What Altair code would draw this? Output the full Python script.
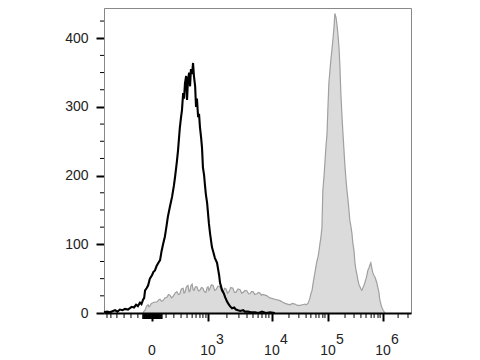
import altair as alt
import pandas as pd

# Unstained control (black line): channel (display units 0-1024) and event count
ctrl_channel = [0,10,20,30,37,45,53,62,70,80,92,100,107,113,120,125,130,134,137,142,147,153,160,165,170,175,180,187,192,197,203,208,213,220,227,233,237,243,247,253,257,260,264,267,270,274,277,280,284,287,290,294,297,300,304,307,310,314,317,320,324,327,330,334,337,340,344,350,354,360,365,370,377,384,387,394,400,404,410,414,420,427,434,440,447,454,464,470,480,490,504,515,527,540,554,570]
ctrl_count = [1,2,1,3,4,2,5,4,6,5,9,8,12,10,15,13,19,22,33,36,40,50,55,60,62,68,72,77,90,100,111,125,140,155,169,185,198,220,237,270,285,295,320,312,334,345,310,339,350,330,355,348,364,345,330,300,312,285,290,271,255,240,212,200,185,172,160,130,115,96,88,80,73,55,44,33,28,23,17,14,10,7,8,5,4,3,4,2,2,1,1,0,2,0,1,0]

# Stained sample (grey filled)
stain_channel = [130,134,137,142,147,150,153,158,163,170,177,182,187,192,197,203,210,215,220,225,230,237,243,248,253,258,264,267,270,275,280,284,287,290,294,297,300,305,310,315,320,325,330,335,340,344,347,350,354,358,364,369,374,380,387,392,397,402,407,412,417,423,430,435,440,447,454,459,464,470,477,482,487,492,497,503,510,515,520,525,530,537,544,550,554,562,570,578,587,595,604,612,620,628,637,645,654,662,670,675,680,684,687,690,694,697,700,704,707,710,714,717,720,724,727,730,734,737,740,744,747,750,754,757,760,764,767,770,774,777,780,784,787,790,794,797,800,804,807,810,814,817,820,824,827,830,834,837,840,844,847,850,854,857,860,864,867,870,874,877,880,884,887,890,894,897,900,904,907,910,914,917,920,924,927,931,934,937]
stain_count = [0,3,4,10,12,9,10,14,15,16,16,19,20,17,18,22,23,27,26,22,24,29,31,27,28,35,36,29,30,38,40,31,32,40,42,34,33,38,38,32,33,37,36,31,30,37,38,33,36,41,40,33,34,39,38,32,30,36,35,29,31,37,36,30,30,35,34,29,30,33,32,28,28,31,31,27,28,30,29,26,27,26,25,23,22,21,20,19,18,16,14,13,12,14,13,11,11,12,13,12,14,18,22,28,33,42,50,60,68,75,82,90,100,112,125,179,200,220,240,262,300,334,355,370,382,400,415,436,430,420,407,385,358,320,285,262,240,212,195,180,164,150,135,125,116,102,90,73,64,55,48,42,38,35,33,37,40,44,50,55,62,66,70,73,64,58,55,52,48,44,36,30,19,12,8,4,2,0]

# Axis ticks
x_major = [160, 347, 560, 747, 931]
x_base = ["0", "10", "10", "10", "10"]
x_exp = ["", "3", "4", "5", "6"]
x_minor = [10,23,43,67,90,113,207,233,257,277,294,307,320,330,340,410,450,477,497,514,527,540,550,617,650,674,690,707,717,730,737,804,834,857,874,891,901,914,921,981,1014]
x_dense = list(range(130, 194, 3))
y_major = [0, 100, 200, 300, 400]
y_minor = [25, 50, 75, 125, 150, 175, 225, 250, 275, 325, 350, 375, 425]

W, H = 307, 305
FONT = "Liberation Sans"
xs = alt.Scale(domain=[0, 1024], nice=False, zero=False)
ys = alt.Scale(domain=[0, 444], nice=False, zero=False)

stain_df = pd.DataFrame({"ch": stain_channel, "count": stain_count})
ctrl_df = pd.DataFrame({"ch": ctrl_channel, "count": ctrl_count})

stain = alt.Chart(stain_df).mark_area(
    color="#cccccc", line={"color": "#a0a0a0", "strokeWidth": 1.2}
).encode(
    x=alt.X("ch:Q", scale=xs, axis=alt.Axis(
        values=x_major, labels=False, tickSize=8, tickWidth=2, tickColor="black",
        domainColor="black", domainWidth=2, grid=False, title=None, zindex=1)),
    y=alt.Y("count:Q", scale=ys, axis=alt.Axis(
        values=y_major, tickSize=8, tickWidth=2, tickColor="black",
        domainColor="#888888", domainWidth=1, grid=False, title=None,
        labelFont=FONT, labelFontSize=14, labelColor="#222222", labelPadding=8)),
)

ctrl = alt.Chart(ctrl_df).mark_line(color="black", strokeWidth=2.1).encode(
    x=alt.X("ch:Q", scale=xs), y=alt.Y("count:Q", scale=ys)
)

xminor = alt.Chart(pd.DataFrame({"ch": x_minor})).mark_rule(color="black", strokeWidth=1).encode(
    x=alt.X("ch:Q", scale=xs), y=alt.value(H), y2=alt.value(H + 5)
)
xdense = alt.Chart(pd.DataFrame({"ch": x_dense})).mark_rule(color="black", strokeWidth=1.5).encode(
    x=alt.X("ch:Q", scale=xs), y=alt.value(H), y2=alt.value(H + 6)
)
yminor = alt.Chart(pd.DataFrame({"v": y_minor})).mark_rule(color="black", strokeWidth=1).encode(
    y=alt.Y("v:Q", scale=ys), x=alt.value(-4), x2=alt.value(0)
)

lab_df = pd.DataFrame({"ch": x_major, "base": x_base, "exp": x_exp})
base_txt = alt.Chart(lab_df).mark_text(
    font=FONT, fontSize=14, align="center", baseline="alphabetic", color="#222222"
).encode(x=alt.X("ch:Q", scale=xs), y=alt.value(347), text="base:N")
exp_txt = alt.Chart(lab_df).mark_text(
    font=FONT, fontSize=14, align="left", baseline="alphabetic", color="#222222", dx=8
).encode(x=alt.X("ch:Q", scale=xs), y=alt.value(336), text="exp:N")

chart = alt.layer(stain, ctrl, xminor, xdense, yminor, base_txt, exp_txt).properties(
    width=W, height=H,
    autosize="none",
    padding={"left": 96, "top": 0, "right": 60, "bottom": 44},
).configure_view(stroke="#888888", strokeWidth=1)

chart.save("out.html", embed_options={"renderer": "svg", "actions": False})
